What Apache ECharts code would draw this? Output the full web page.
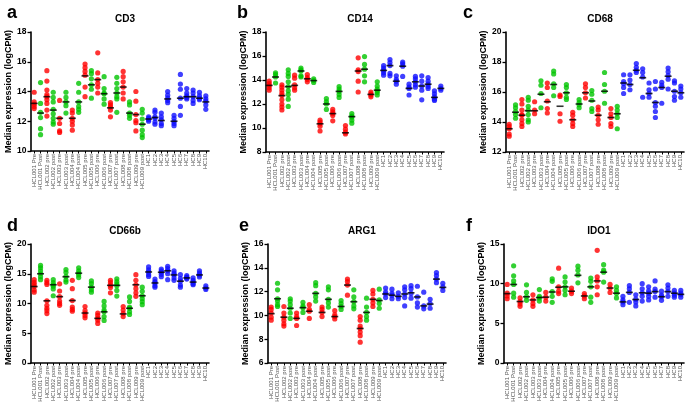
<!DOCTYPE html>
<html><head><meta charset="utf-8">
<script src="https://cdn.jsdelivr.net/npm/echarts@6/dist/echarts.min.js"></script>
<style>html,body{margin:0;padding:0;background:#fff}#c{width:685px;height:407px}</style>
</head><body><div id="c"></div>
<script>
const categories = ['HCL001 Pre','HCL001 Post','HCL002 pre','HCL002 post','HCL003 pre','HCL003 post','HCL004 pre','HCL004 post','HCL005 pre','HCL005 post','HCL006 pre','HCL006 post','HCL007 pre','HCL007 post','HCL008 pre','HCL008 post','HCL009 pre','HCL009 post','HC1','HC2','HC3','HC4','HC5','HC6','HC7','HC8','HC9','HC10'];

const cd3Points = [
 [13.95,13.3,13.15,13.0,12.85],[14.6,13.2,12.6,12.25,11.5,11.1],[15.4,14.7,14.1,13.8,13.65,13.45,13.2,12.75,12.35],[13.95,13.6,13.3,12.8,12.5,12.2,11.95,11.8],
 [13.4,12.2,11.85,11.35,11.25],[13.95,13.6,13.3,13.05,12.55],[12.75,12.55,12.2,12.0,11.75,11.4],[14.55,13.95,13.3,13.0,12.8,12.6],
 [15.85,15.6,15.35,15.1,14.3,13.65],[15.4,15.2,14.85,14.45,14.15,13.55],[16.6,15.25,14.8,14.55,14.3,13.9],[15.0,14.2,13.9,13.85,13.5,13.15],
 [13.25,13.1,12.95,12.75,12.3],[14.95,14.55,14.2,13.9,13.65,13.5,12.6],[15.35,15.0,14.65,14.3,13.9,13.5],[13.3,13.1,12.55,12.4,12.2],
 [14.0,13.35,12.45,12.05,11.9,11.35],[12.8,12.55,12.15,11.8,11.4,11.1,10.9],
 [12.3,12.2,12.1,12.0],[12.75,12.6,12.3,12.2,11.95,11.8],[12.55,12.3,12.1,11.85,11.7],[14.0,13.75,13.55,13.4,13.25],[12.4,12.2,12.0,11.85,11.7],
 [15.15,14.5,14.15,13.55,13.0,12.4],[14.2,13.9,13.7,13.6,13.5],[14.1,13.9,13.65,13.4,13.2],[13.95,13.7,13.55,13.45],[13.7,13.5,13.35,13.1,12.8]
];
const cd3Medians = [13.2,12.55,13.65,12.75,12.2,13.3,12.2,13.3,15.05,14.45,14.8,13.85,12.9,13.9,14.3,12.55,12.45,11.8,12.15,12.25,12.05,13.5,12.0,13.55,13.65,13.65,13.55,13.3];

const cd14Points = [
 [13.9,13.7,13.55,13.35,13.15],[14.6,14.45,14.25,13.75],[13.6,13.4,13.15,12.9,12.7,12.35,12.0,11.75,11.5],[14.85,14.55,14.3,13.85,13.45,13.1,12.8,12.4,11.8],
 [14.4,14.15,13.6,13.35,13.15],[15.0,14.85,14.75,14.35,14.25],[14.45,14.2,14.05,13.85],[14.1,13.95,13.8],
 [10.65,10.5,10.35,10.15,9.75],[12.45,12.2,12.0,11.55],[11.55,11.35,11.2,11.05,10.6],[13.45,13.25,13.05,12.8,12.55],
 [10.2,9.9,9.65,9.5],[11.2,11.0,10.9,10.65,10.4],[15.85,14.85,14.7,13.9,13.0],[15.95,15.3,14.9,14.35,13.85],
 [13.0,12.85,12.75,12.6],[13.85,13.5,13.25,13.1,12.95,12.75],
 [15.2,15.0,14.8,14.6,14.4],[15.7,15.45,15.2,14.55,14.35],[14.35,14.05,13.9,13.65],[15.5,15.35,15.15,14.3],[13.65,13.4,13.3,12.75],
 [14.3,14.1,13.85,13.6,13.4],[14.35,13.9,13.5,13.15,12.35],[14.2,13.9,13.65,13.45,13.3],[13.1,12.85,12.6,12.4,12.3],[13.5,13.3,13.15]
];
const cd14Medians = [13.55,14.25,12.7,13.45,13.55,14.75,14.1,13.95,10.35,12.0,11.2,13.05,9.6,10.95,14.75,14.9,12.8,13.15,14.8,15.2,13.9,15.15,13.3,13.85,13.5,13.65,12.55,13.3];

const cd68Points = [
 [13.85,13.7,13.55,13.2,13.05],[15.15,14.95,14.7,14.5,14.25],[15.5,15.2,14.8,14.5,14.45,14.15,13.9,13.7],[15.65,15.45,15.05,14.8,14.5,14.15,14.0],
 [15.35,14.8,14.55],[16.75,16.45,15.9,14.95],[16.6,16.3,15.4,14.9,14.6],[17.4,17.2,16.55,16.3,15.75],
 [15.8,15.7,14.55,14.05],[16.5,16.3,15.95,15.65,15.5],[14.65,14.45,14.15,13.9,13.7],[15.5,15.3,15.15,14.95],
 [16.55,16.3,15.95,15.6],[16.1,15.85,15.45,14.9,14.7],[15.0,14.8,14.45,14.15,13.85],[17.3,16.5,16.05,15.25],
 [14.9,14.55,14.3,13.9,13.7],[15.05,14.8,14.55,14.3,13.55],
 [17.15,16.7,16.55,16.3,15.9],[17.15,16.8,16.5,16.15],[17.9,17.65,17.45,17.3],[17.55,17.3,17.0,15.65],[16.6,16.15,15.9,15.65],
 [16.7,16.2,15.3,15.05,14.7,14.3],[16.65,16.45,16.3,15.25],[17.6,17.35,17.1,16.85,16.2],[16.75,16.6,16.05,15.7,15.45],[16.4,16.2,15.95,15.65]
];
const cd68Medians = [13.55,14.65,14.45,14.75,14.75,15.85,15.35,16.5,15.05,15.95,14.15,15.2,15.95,15.4,14.45,16.05,14.3,14.55,16.6,16.5,17.45,16.95,15.9,15.3,16.3,17.05,16.05,15.95];

const cd66bPoints = [
 [14.0,13.55,13.2,12.85,12.25,11.9],[16.4,16.0,15.5,15.0,14.5,14.0],[13.9,13.5,13.2,10.45,9.7,9.2,8.8,8.3],[14.0,13.5,13.15,12.9,12.45,11.3],
 [13.3,12.1,11.15,10.4,10.0,9.7],[15.7,15.25,14.55,13.95,13.6],[13.9,12.5,10.5,9.4,9.0,8.7],[16.0,15.5,15.1,14.8,14.35],
 [9.5,8.8,8.4,8.0,7.6],[13.8,13.35,12.75,12.3,11.9],[8.4,8.0,7.55,7.2,6.65],[10.35,9.6,8.9,8.6,7.8,7.15],
 [13.9,13.5,13.05,12.7,11.8],[14.15,13.7,13.3,13.0,12.2,11.25],[9.5,8.9,8.3,7.8],[11.1,10.35,9.4,9.2,8.6,8.15],
 [14.85,13.9,13.15,12.5,11.8,11.2],[12.75,12.05,11.3,10.8,10.3,9.8],
 [16.15,15.65,15.3,14.85,14.55],[14.1,13.7,13.45,13.0,12.75],[15.8,15.5,15.25,14.9,14.5],[16.25,15.85,15.5,15.0,14.0],[15.5,15.1,14.8,14.3,13.9],
 [14.85,14.2,13.75,13.1,12.75],[14.7,14.45,14.3,14.1],[14.3,13.9,13.6,13.3,13.15],[15.5,15.1,14.8,14.45],[12.95,12.6,12.35]
];
const cd66bMedians = [12.85,15.0,10.45,13.15,11.15,14.5,10.5,15.1,8.4,12.75,7.5,8.6,13.05,13.05,8.25,9.2,13.15,11.3,15.3,13.45,15.25,15.5,14.8,13.75,14.3,13.6,14.8,12.6];

const arg1Points = [
 [10.7,10.5,10.2,9.85,9.6],[12.7,12.15,11.4,11.2,10.9,10.75],[10.75,10.2,9.85,9.6,9.3,9.1],[11.4,11.2,10.9,10.6,10.2,9.75],
 [10.2,9.9,9.75,9.15],[11.1,10.8,10.65,10.25],[10.9,10.5,10.35,9.75],[12.75,12.5,11.85,11.55,11.2],
 [10.7,10.5,10.25,9.9],[12.4,12.15,11.35,11.05,10.7],[10.4,10.05,9.9,9.7],[11.25,11.0,10.75,10.5],
 [13.05,12.85,12.55,11.7],[12.15,11.55,11.15,10.8,10.55],[9.9,9.6,9.1,8.9,8.6,8.3,7.75],[11.45,10.7,10.25,9.9,9.6],
 [12.1,11.8,11.35,11.05,10.75],[12.2,11.3,11.0,10.6],
 [12.3,11.95,11.8,11.5],[12.2,11.85,11.7,11.4],[11.9,11.6,11.4],[12.4,12.15,11.8,11.5,10.8],[12.5,12.25,11.85,11.45],
 [12.45,11.55,11.05,10.7],[11.95,10.8,10.55],[11.35,11.0,10.6],[13.6,13.35,13.05,12.75],[12.7,12.4,12.1]
];
const arg1Medians = [10.15,11.4,9.85,10.6,9.75,10.65,10.35,11.85,10.25,11.35,9.9,10.75,12.55,11.15,8.9,10.25,11.35,11.25,11.8,11.7,11.6,11.8,11.9,11.55,10.8,10.95,13.05,12.35];

const ido1Points = [
 [9.9,8.8,8.45,8.1],[12.25,11.0,10.35,9.9,8.8,8.3],[8.2,7.75,7.45,7.15],[9.85,8.9,8.35,7.9],
 [8.6,7.95,7.5,7.15],[9.25,8.4,8.2,7.8],[8.9,8.3,7.8],[10.6,10.3,9.0,8.4,7.65],
 [11.95,9.6,9.05,8.75],[10.85,10.2,9.6,9.15,8.6],[9.45,9.05,8.75],[12.2,11.7,11.1,10.1],
 [8.75,8.45,8.1],[10.7,10.3,9.6,8.3,7.65],[14.2,10.85,10.35,9.6,8.6],[12.4,11.7,11.45,10.2],
 [9.9,9.45,8.9],[9.6,9.15,8.75,8.2],
 [8.4,7.95,7.7,7.35],[9.75,9.35,8.9,7.65],[8.6,8.05,7.7,7.2],[10.0,9.35,8.85,8.4,7.8],[9.6,9.1,8.8,8.4,7.95],
 [10.35,9.3,9.0,8.3],[9.05,8.55,8.35,7.9],[9.85,9.45,9.0,8.4],[9.15,8.8,8.55,8.3],[9.15,8.8,8.6,8.3]
];
const ido1Medians = [8.75,9.9,7.75,8.35,7.95,8.25,8.3,8.95,9.55,9.6,9.05,11.05,8.45,9.6,10.35,11.45,9.45,8.8,7.7,8.9,8.0,8.85,8.8,9.0,8.35,9.0,8.8,8.65];

const panels = [
 {letter:'a', title:'CD3',   pts:cd3Points,   med:cd3Medians,   min:10, max:18, interval:2, grid:{left:31, top:32, width:178, height:119}, lx:2,   ly:-1,  gap:14},
 {letter:'b', title:'CD14',  pts:cd14Points,  med:cd14Medians,  min:8,  max:18, interval:2, grid:{left:266,top:32, width:178, height:120}, lx:232, ly:-1,  gap:16},
 {letter:'c', title:'CD68',  pts:cd68Points,  med:cd68Medians,  min:12, max:20, interval:2, grid:{left:506,top:32, width:178, height:120}, lx:458, ly:-1,  gap:16},
 {letter:'d', title:'CD66b', pts:cd66bPoints, med:cd66bMedians, min:0,  max:20, interval:5, grid:{left:31, top:244,width:178, height:119}, lx:2,   ly:212, gap:15},
 {letter:'e', title:'ARG1',  pts:arg1Points,  med:arg1Medians,  min:6,  max:16, interval:2, grid:{left:268,top:244,width:178, height:119}, lx:234, ly:212, gap:18},
 {letter:'f', title:'IDO1',  pts:ido1Points,  med:ido1Medians,  min:0,  max:15, interval:5, grid:{left:504,top:244,width:180, height:119}, lx:461, ly:212, gap:15}
];

function catColor(i){ return i >= 18 ? '#1010ff' : (i % 2 === 0 ? '#ff0000' : '#00c400'); }
const FONT = 'Liberation Sans, Arial, sans-serif';

const option = {animation:false, backgroundColor:'#fff', grid:[], xAxis:[], yAxis:[], series:[], title:[]};
panels.forEach((p, k) => {
  option.grid.push(Object.assign({containLabel:false}, p.grid));
  option.xAxis.push({
    type:'category', gridIndex:k, data:categories, boundaryGap:true,
    axisLine:{lineStyle:{color:'#000', width:1.6}},
    axisTick:{show:true, alignWithLabel:true, length:2.5, lineStyle:{color:'#000', width:1}},
    axisLabel:{rotate:90, interval:0, fontSize:6, color:'#555', fontFamily:FONT, margin:3},
    splitLine:{show:false}
  });
  option.yAxis.push({
    type:'value', gridIndex:k, min:p.min, max:p.max, interval:p.interval,
    name:'Median expression (logCPM)', nameLocation:'middle', nameGap:p.gap,
    nameTextStyle:{fontSize:9, fontWeight:'bold', color:'#000', fontFamily:FONT},
    axisLine:{show:true, lineStyle:{color:'#000', width:1.6}},
    axisTick:{show:true, length:3.5, lineStyle:{color:'#000', width:1.3}},
    axisLabel:{fontSize:8.5, fontWeight:'bold', color:'#000', fontFamily:FONT, margin:4.5},
    splitLine:{show:false}
  });
  const data = [];
  p.pts.forEach((arr, i) => arr.forEach(v => data.push({value:[i, v], itemStyle:{color:catColor(i)}})));
  option.series.push({type:'scatter', xAxisIndex:k, yAxisIndex:k, symbol:'circle', symbolSize:5.2, data:data, z:2});
  option.series.push({type:'scatter', xAxisIndex:k, yAxisIndex:k, symbol:'rect', symbolSize:[7,1.6],
    itemStyle:{color:'#000'}, data:p.med.map((v,i)=>[i,v]), z:3});
  option.title.push({text:p.title, left:p.grid.left + p.grid.width/2, top:p.grid.top - 23, textAlign:'center',
    textStyle:{fontSize:10, fontWeight:'bold', color:'#000', fontFamily:FONT}});
  option.title.push({text:p.letter, left:p.lx, top:p.ly,
    textStyle:{fontSize:18, fontWeight:'bold', color:'#000', fontFamily:FONT}});
});

const chart = echarts.init(document.getElementById('c'), null, {renderer:'canvas'});
chart.setOption(option);
</script>
</body></html>
